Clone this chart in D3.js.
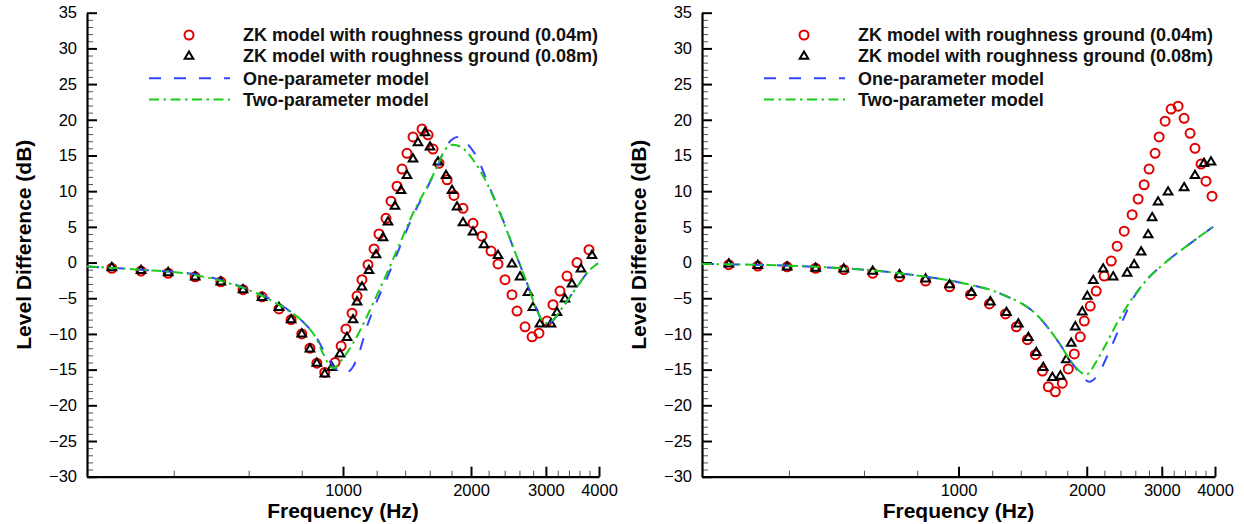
<!DOCTYPE html>
<html>
<head>
<meta charset="utf-8">
<script src="https://cdn.jsdelivr.net/npm/d3@7"></script>
<style>
  body { margin: 0; background: #fff; }
  svg text { font-family: "Liberation Sans", Arial, sans-serif; }
</style>
</head>
<body>
<div id="container"></div>
<script>
/* DATA */
// left panel, ZK model 0.04m (circles)
const leftFreq04 = [286, 335, 388, 449, 516, 582, 645, 707, 755, 800, 836, 868, 906, 958, 990, 1016, 1050, 1079, 1108, 1145,
  1183, 1215, 1262, 1297, 1340, 1377, 1414, 1461, 1534, 1585, 1628, 1682, 1757, 1824, 1915, 2022, 2122, 2229, 2315, 2405,
  2497, 2566, 2680, 2784, 2890, 3019, 3118, 3238, 3364, 3551, 3789];
const leftLevel04 = [-0.8, -1.2, -1.5, -2.0, -2.7, -3.8, -4.8, -6.5, -8.0, -10.0, -12.0, -14.1, -15.4, -14.0, -11.7, -9.3, -7.1, -4.7, -2.4, -0.3,
  1.9, 4.0, 6.2, 8.6, 10.7, 13.1, 15.3, 17.6, 18.7, 17.9, 15.9, 13.9, 11.6, 9.4, 7.6, 5.5, 3.7, 1.6, -0.2, -2.4,
  -4.5, -6.8, -9.0, -10.4, -9.9, -8.2, -5.9, -4.0, -1.9, 0.0, 1.8];
// left panel, ZK model 0.08m (triangles)
const leftFreq08 = [286, 335, 388, 449, 516, 582, 645, 707, 755, 800, 836, 868, 906, 942, 984, 1022, 1056, 1079, 1108, 1151,
  1196, 1242, 1276, 1325, 1369, 1414, 1461, 1501, 1559, 1602, 1673, 1747, 1805, 1854, 1915, 2022, 2146, 2315, 2497, 2608,
  2723, 2797, 2906, 3084, 3186, 3327, 3455, 3628, 3850];
const leftLevel08 = [-0.6, -1.0, -1.3, -1.9, -2.6, -3.7, -4.8, -6.2, -7.9, -9.9, -12.0, -14.0, -15.5, -14.6, -12.7, -10.4, -7.9, -5.4, -3.3, -1.0,
  1.2, 3.6, 5.8, 8.0, 10.2, 12.3, 14.6, 16.9, 18.3, 16.3, 14.2, 12.3, 10.2, 7.9, 5.7, 4.4, 2.6, 1.1, -0.1, -1.9,
  -4.1, -6.2, -8.5, -8.5, -6.9, -5.0, -2.9, -0.8, 1.1];
// left panel, one-parameter model (blue dashed)
const leftOneFreq = [250, 333, 444, 572, 663, 738, 805, 868, 917, 965, 1010, 1056, 1096, 1138, 1190, 1269, 1361, 1461, 1576, 1665,
  1747, 1864, 1989, 2080, 2181, 2341, 2511, 2709, 2860, 2986, 3118, 3292, 3551, 3810, 3978];
const leftOneLevel = [-0.55, -1.0, -1.6, -3.3, -4.9, -6.5, -8.3, -10.6, -13.2, -15.0, -15.5, -14.6, -12.3, -9.0, -6.0, -2.2, 2.2, 6.6, 10.4, 13.4,
  16.2, 17.6, 16.2, 14.4, 11.4, 7.0, 2.2, -2.9, -6.7, -8.6, -8.1, -6.2, -3.4, -1.0, -0.1];
// left panel, two-parameter model (green dash-dot)
const leftTwoFreq = [250, 333, 444, 572, 663, 738, 805, 868, 897, 947, 1000, 1056, 1127, 1177, 1269, 1361, 1461, 1576, 1665, 1737,
  1814, 1915, 2022, 2181, 2341, 2511, 2709, 2860, 2986, 3118, 3292, 3551, 3810, 3978];
const leftTwoLevel = [-0.55, -1.0, -1.7, -3.4, -5.0, -6.6, -8.3, -10.8, -12.7, -14.8, -13.4, -11.3, -8.1, -5.7, -1.5, 2.7, 6.9, 10.6, 13.4, 15.8,
  16.5, 16.0, 14.4, 11.1, 6.9, 2.2, -2.9, -6.7, -8.5, -8.0, -6.2, -3.4, -1.0, -0.1];

// right panel, ZK model 0.04m (circles)
const rightFreq04 = [289, 338, 396, 462, 538, 629, 727, 837, 953, 1067, 1182, 1289, 1367, 1451, 1515, 1574, 1625, 1688, 1752, 1810,
  1870, 1931, 1974, 2038, 2105, 2198, 2283, 2357, 2449, 2556, 2640, 2727, 2801, 2894, 2957, 3055, 3155, 3277, 3385, 3496,
  3590, 3709, 3810, 3936];
const rightLevel04 = [-0.3, -0.5, -0.6, -0.8, -1.0, -1.5, -2.0, -2.6, -3.4, -4.5, -5.8, -7.2, -9.0, -10.8, -12.9, -15.2, -17.4, -18.1, -16.9, -14.9,
  -12.8, -10.4, -8.2, -6.1, -4.0, -1.9, 0.2, 2.3, 4.4, 6.7, 8.9, 10.9, 13.1, 15.3, 17.6, 19.8, 21.5, 21.9, 20.2, 18.1,
  16.0, 13.8, 11.4, 9.3];
// right panel, ZK model 0.08m (triangles)
const rightFreq08 = [289, 338, 396, 462, 538, 629, 727, 837, 953, 1073, 1188, 1296, 1382, 1459, 1523, 1581, 1661, 1734, 1790, 1839,
  1880, 1952, 2006, 2072, 2186, 2307, 2488, 2584, 2683, 2787, 2848, 2941, 3104, 3385, 3590, 3769, 3914];
const rightLevel08 = [-0.1, -0.3, -0.5, -0.7, -0.8, -1.1, -1.6, -2.2, -3.0, -4.1, -5.4, -6.9, -8.5, -10.4, -12.5, -14.6, -16.0, -15.8, -13.5, -11.2,
  -8.9, -6.8, -4.6, -2.4, -0.8, -1.9, -1.4, -0.2, 1.6, 4.0, 6.4, 8.6, 10.0, 10.6, 12.3, 14.0, 14.2];
// right panel, one-parameter model
const rightOneFreq = [250, 424, 727, 1005, 1248, 1548, 1724, 1849, 1930, 2027, 2120, 2230, 2357, 2450, 2560, 2750, 3060, 3540, 3957];
const rightOneLevel = [-0.2, -0.5, -1.5, -2.8, -4.3, -7.7, -11.3, -14.1, -15.6, -16.7, -15.8, -13.2, -9.9, -7.6, -5.2, -2.6, 0.0, 2.9, 5.0];
// right panel, two-parameter model
const rightTwoFreq = [250, 424, 727, 1005, 1248, 1548, 1724, 1849, 1994, 2110, 2220, 2380, 2560, 2750, 3060, 3540, 3957];
const rightTwoLevel = [-0.2, -0.5, -1.5, -2.8, -4.3, -7.7, -11.3, -14.1, -15.7, -13.8, -11.4, -8.0, -5.0, -2.6, 0.0, 2.9, 5.0];

// axes
const xMajorTicks = [1000, 2000, 3000, 4000];
const xMinorTicks = [400, 600, 800, 1200, 1400, 1600, 1800, 2200, 2400, 2600, 2800, 3200, 3400, 3600, 3800];
const yMajorTicks = d3.range(-30, 36, 5);
const yMinorTicks = d3.range(-30, 36, 1).filter(v => v % 5 !== 0);

const legendLabels = [
  "ZK model with roughness ground (0.04m)",
  "ZK model with roughness ground (0.08m)",
  "One-parameter model",
  "Two-parameter model"
];

/* CONSTANTS */
const width = 1244, height = 524;
const yTop = 12.7, yBottom = 476.7;
const red = "#e00000", blue = "#3346ff", green = "#18cc18";
const triPath = "M0,-4L4.3,3.3L-4.3,3.3Z";
const circleR = 4.5;

const panels = [
  { x0: 87, x1: 599, f04: leftFreq04, l04: leftLevel04, f08: leftFreq08, l08: leftLevel08,
    oneF: leftOneFreq, oneL: leftOneLevel, twoF: leftTwoFreq, twoL: leftTwoLevel },
  { x0: 702, x1: 1215, f04: rightFreq04, l04: rightLevel04, f08: rightFreq08, l08: rightLevel08,
    oneF: rightOneFreq, oneL: rightOneLevel, twoF: rightTwoFreq, twoL: rightTwoLevel }
];

const svg = d3.select("#container")
  .append("svg")
  .attr("width", width)
  .attr("height", height);

svg.append("rect").attr("width", width).attr("height", height).attr("fill", "#fff");

const yScale = d3.scaleLinear().domain([-30, 35]).range([yBottom, yTop]);

panels.forEach(p => {
  const xScale = d3.scaleLog().domain([250, 4000]).range([p.x0, p.x1]);
  const g = svg.append("g");

  // minor ticks first
  g.append("g")
    .attr("transform", `translate(0,${yBottom})`)
    .call(d3.axisBottom(xScale).tickValues(xMinorTicks).tickSize(-6).tickFormat(""))
    .call(a => a.select(".domain").remove())
    .call(a => a.selectAll("line").attr("stroke", "#555").attr("stroke-width", 1));
  g.append("g")
    .attr("transform", `translate(${p.x0},0)`)
    .call(d3.axisLeft(yScale).tickValues(yMinorTicks).tickSize(-6).tickFormat(""))
    .call(a => a.select(".domain").remove())
    .call(a => a.selectAll("line").attr("stroke", "#555").attr("stroke-width", 1));

  // major axes
  const xAxis = g.append("g")
    .attr("transform", `translate(0,${yBottom})`)
    .call(d3.axisBottom(xScale).tickValues(xMajorTicks).tickSizeInner(-10).tickSizeOuter(0)
      .tickPadding(8).tickFormat(d3.format("d")));
  const yAxis = g.append("g")
    .attr("transform", `translate(${p.x0},0)`)
    .call(d3.axisLeft(yScale).tickValues(yMajorTicks).tickSizeInner(-10).tickSizeOuter(0)
      .tickPadding(10).tickFormat(d3.format("d")));
  [xAxis, yAxis].forEach(a => {
    a.select(".domain").attr("stroke", "#000").attr("stroke-width", 2.2);
    a.selectAll(".tick line").attr("stroke", "#000").attr("stroke-width", 2);
    a.selectAll(".tick text").attr("font-size", 16.5).attr("fill", "#000")
      .attr("font-family", "'Liberation Sans', Arial, sans-serif");
  });

  // titles
  g.append("text")
    .attr("x", (p.x0 + p.x1) / 2).attr("y", 518)
    .attr("text-anchor", "middle")
    .attr("font-size", 21).attr("font-weight", "bold")
    .text("Frequency (Hz)");
  g.append("text")
    .attr("transform", `translate(${p.x0 - 56},${(yTop + yBottom) / 2}) rotate(-90)`)
    .attr("text-anchor", "middle")
    .attr("font-size", 21).attr("font-weight", "bold")
    .text("Level Difference (dB)");

  // symbols
  g.append("g").selectAll("circle")
    .data(d3.zip(p.f04, p.l04))
    .join("circle")
    .attr("cx", d => xScale(d[0]))
    .attr("cy", d => yScale(d[1]))
    .attr("r", circleR)
    .attr("fill", "none")
    .attr("stroke", red)
    .attr("stroke-width", 2);

  g.append("g").selectAll("path")
    .data(d3.zip(p.f08, p.l08))
    .join("path")
    .attr("d", triPath)
    .attr("transform", d => `translate(${xScale(d[0])},${yScale(d[1])})`)
    .attr("fill", "none")
    .attr("stroke", "#000")
    .attr("stroke-width", 2);

  // model lines
  const line = d3.line()
    .x(d => xScale(d[0]))
    .y(d => yScale(d[1]))
    .curve(d3.curveMonotoneX);

  g.append("path")
    .datum(d3.zip(p.oneF, p.oneL))
    .attr("d", line)
    .attr("fill", "none")
    .attr("stroke", blue)
    .attr("stroke-width", 2)
    .attr("stroke-dasharray", "12,13");

  g.append("path")
    .datum(d3.zip(p.twoF, p.twoL))
    .attr("d", line)
    .attr("fill", "none")
    .attr("stroke", green)
    .attr("stroke-width", 2)
    .attr("stroke-dasharray", "10,4.5,2.5,4.5");

  // legend
  const lg = g.append("g").attr("transform", `translate(${p.x0},0)`);
  const rowY = [35, 55.5, 78.3, 99.5];
  lg.append("circle").attr("cx", 102).attr("cy", rowY[0]).attr("r", circleR)
    .attr("fill", "none").attr("stroke", red).attr("stroke-width", 2);
  lg.append("path").attr("d", triPath).attr("transform", `translate(102,${rowY[1]})`)
    .attr("fill", "none").attr("stroke", "#000").attr("stroke-width", 2);
  lg.append("line").attr("x1", 62).attr("x2", 143).attr("y1", rowY[2]).attr("y2", rowY[2])
    .attr("stroke", blue).attr("stroke-width", 2).attr("stroke-dasharray", "12,13");
  lg.append("line").attr("x1", 62).attr("x2", 143).attr("y1", rowY[3]).attr("y2", rowY[3])
    .attr("stroke", green).attr("stroke-width", 2).attr("stroke-dasharray", "10,4.5,2.5,4.5");
  lg.selectAll("text.leg")
    .data(legendLabels)
    .join("text")
    .attr("class", "leg")
    .attr("x", 156)
    .attr("y", (d, i) => rowY[i] + 6.2)
    .attr("font-size", 18)
    .attr("font-weight", "bold")
    .attr("fill", "#111")
    .text(d => d);
});
</script>
</body>
</html>
